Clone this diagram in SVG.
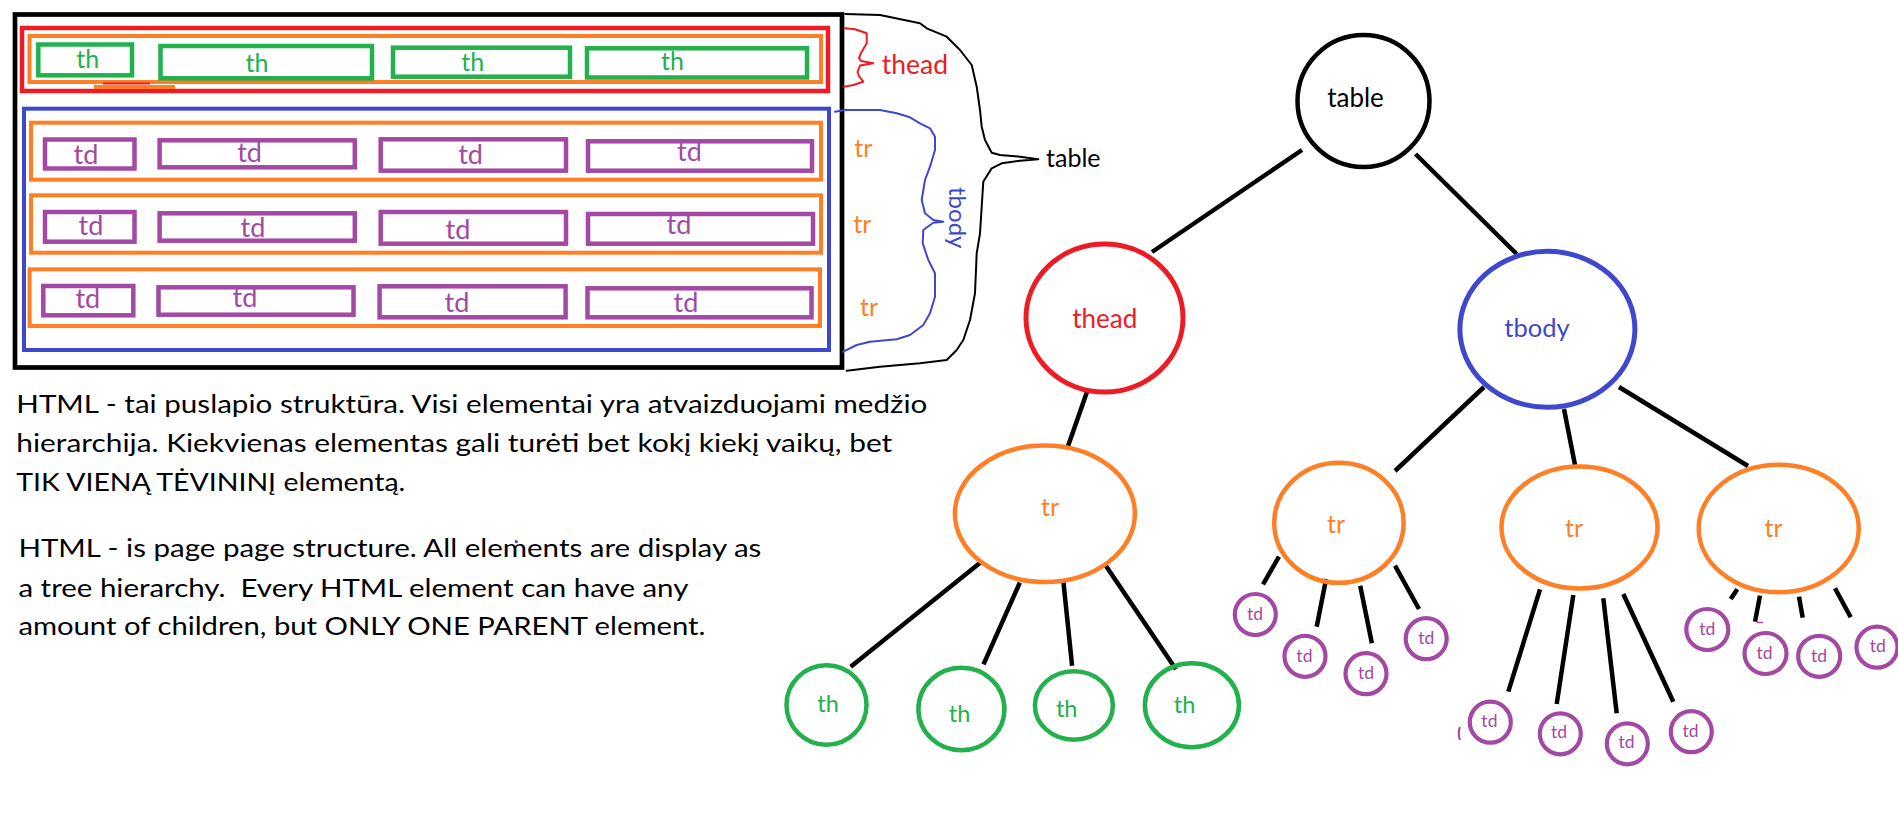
<svg xmlns="http://www.w3.org/2000/svg" width="1898" height="816" viewBox="0 0 1898 816">
<style>
.bg{fill:#ffffff}
.r{fill:none;stroke-linejoin:miter}
.blk{stroke:#000000}
.red{stroke:#ed1c24}
.org{stroke:#ff7f27}
.grn{stroke:#22b14c}
.blu{stroke:#3f48cc}
.pur{stroke:#a349a4}
.t{font-family:Lato,"Open Sans","Liberation Sans",sans-serif;text-anchor:middle}
.ts{font-family:Lato,"Open Sans","Liberation Sans",sans-serif}
.cred{fill:#ed1c24}.corg{fill:#ff7f27}.cgrn{fill:#22b14c}.cblu{fill:#3f48cc}.cpur{fill:#a349a4}.cblk{fill:#000000}
.node{fill:none}
.edge{stroke:#000000;stroke-width:4.5;stroke-linecap:butt;fill:none}
.brace{fill:none;stroke-width:2;stroke-linejoin:round;stroke-linecap:round}
.para{font-family:Lato,"Open Sans","Liberation Sans",sans-serif;font-size:25.5px;fill:#000000;white-space:pre}
</style>
<rect class="bg" x="0" y="0" width="1898" height="816"/>

<g id="table-box">
  <rect class="r blk" x="15" y="14.5" width="827" height="353" stroke-width="4.7"/>
  <rect class="r red" x="22" y="28" width="806" height="63" stroke-width="4.5"/>
  <rect class="r org" x="29.5" y="36" width="791.5" height="46" stroke-width="4"/>
  <line x1="94" y1="87" x2="175" y2="87" stroke="#ff7f27" stroke-width="4"/>
  <line x1="103" y1="83.5" x2="150" y2="83.5" stroke="#ed1c24" stroke-width="2"/>
  <rect class="r grn" x="38.3" y="44.5" width="93.7" height="30.8" stroke-width="4.5"/>
  <rect class="r grn" x="160.5" y="46" width="211.5" height="32.3" stroke-width="4.5"/>
  <rect class="r grn" x="393" y="47.7" width="177" height="29" stroke-width="4.5"/>
  <rect class="r grn" x="587" y="48.3" width="220" height="29.2" stroke-width="4.5"/>
  <g class="t cgrn" font-size="25">
    <text x="87.7" y="68.3">th</text>
    <text x="257" y="71.7">th</text>
    <text x="472.8" y="70.7">th</text>
    <text x="672.5" y="70">th</text>
  </g>
  <rect class="r blu" x="24" y="108.7" width="805" height="241.3" stroke-width="4"/>
  <rect class="r org" x="31" y="122.7" width="790" height="57" stroke-width="4"/>
  <rect class="r org" x="31" y="195.3" width="790" height="57.4" stroke-width="4"/>
  <rect class="r org" x="29.6" y="269.3" width="790.4" height="56.7" stroke-width="4"/>
  <g stroke-width="4.5">
    <rect class="r pur" x="45" y="139.5" width="89.5" height="29"/>
    <rect class="r pur" x="159.6" y="140.3" width="195.2" height="27"/>
    <rect class="r pur" x="380.7" y="139.3" width="185.3" height="31.4"/>
    <rect class="r pur" x="588" y="141.3" width="224" height="29.4"/>
    <rect class="r pur" x="45" y="212" width="89.5" height="29.7"/>
    <rect class="r pur" x="159.6" y="213.3" width="195.2" height="27.4"/>
    <rect class="r pur" x="380.7" y="212" width="185.3" height="31.7"/>
    <rect class="r pur" x="588" y="214" width="225" height="29.7"/>
    <rect class="r pur" x="43.3" y="286" width="90" height="29.3"/>
    <rect class="r pur" x="158.5" y="287.3" width="195" height="27.4"/>
    <rect class="r pur" x="379.6" y="286.3" width="186" height="31"/>
    <rect class="r pur" x="587.5" y="288.3" width="224" height="29"/>
  </g>
  <g class="t cpur" font-size="27">
    <text x="86" y="164.3">td</text>
    <text x="249.6" y="161.7">td</text>
    <text x="470.6" y="164.3">td</text>
    <text x="689.5" y="161">td</text>
    <text x="91" y="235">td</text>
    <text x="252.9" y="237.3">td</text>
    <text x="458" y="239">td</text>
    <text x="679" y="234.3">td</text>
    <text x="87.8" y="308.3">td</text>
    <text x="245" y="306.7">td</text>
    <text x="457" y="311.7">td</text>
    <text x="686" y="311.7">td</text>
  </g>
</g>

<g id="braces">
  <polyline class="brace red" points="845,28.3 855,29.3 866.7,33.3 866.7,43.3 861.7,51.7 859,58 861,61 873.3,63.3 860,65.5 857.5,72 859,76 863.3,81.7 853.3,85 844,86.7"/>
  <text class="ts cred" x="881.7" y="74" font-size="26.5">thead</text>
  <polyline class="brace blu" points="835,111.7 845,110 880,110 896.7,113.3 910,117.3 920,123.3 930,128.3 935,136.7 935,150 930,166.7 925,180 921.7,200 925,213.3 933.3,220 943.3,221.7 933.3,222.7 923.3,230 922.7,243.3 928.3,260 935,273.3 935,296.7 930,313.3 923.3,325 910,335 896.7,339.3 870,341.7 856.7,345 843.3,351.7" stroke-width="1.8"/>
  <text class="ts cblu" font-size="24" transform="translate(949,187) rotate(90)">tbody</text>
  <g class="ts corg" font-size="25">
    <text x="854.3" y="157.3">tr</text>
    <text x="853.3" y="233.3">tr</text>
    <text x="860" y="316">tr</text>
  </g>
  <polyline class="brace blk" points="845.3,14 880,15 920,23.3 926.7,28.3 946.7,36.7 960,50 971.7,65 976.7,86.7 980,110 981.7,126.7 985,140 991.7,152.7 1000,155 1020,156.7 1038.3,159.3 1020,160.7 1001.7,163.3 991.7,168.3 983.3,181.7 981.7,206.7 980,233.3 976.7,253.3 975,293.3 970,320 963.3,340 956.7,350 946.7,360 920,363.3 880,366.7 846.7,370.7"/>
  <text class="ts cblk" x="1046" y="166.7" font-size="25">table</text>
</g>

<g id="description">
  <text class="para" x="16.3" y="413.3" textLength="911" lengthAdjust="spacingAndGlyphs">HTML - tai puslapio struktūra. Visi elementai yra atvaizduojami medžio</text>
  <text class="para" x="16.3" y="451.7" textLength="876" lengthAdjust="spacingAndGlyphs">hierarchija. Kiekvienas elementas gali turėti bet kokį kiekį vaikų, bet</text>
  <text class="para" x="16.3" y="490.7" textLength="389" lengthAdjust="spacingAndGlyphs">TIK VIENĄ TĖVININĮ elementą.</text>
  <text class="para" x="18.4" y="557.3" textLength="743" lengthAdjust="spacingAndGlyphs">HTML - is page page structure. All elements are display as</text>
  <text class="para" x="18.4" y="596.7" textLength="670" lengthAdjust="spacingAndGlyphs">a tree hierarchy.  Every HTML element can have any</text>
  <text class="para" x="18.4" y="635" textLength="687" lengthAdjust="spacingAndGlyphs">amount of children, but ONLY ONE PARENT element.</text>
  <circle cx="516.3" cy="541.7" r="1.6" fill="#3f48cc"/>
</g>

<g id="connectors">
  <line class="edge" x1="1302" y1="150" x2="1152" y2="252"/>
  <line class="edge" x1="1415.5" y1="154" x2="1516.7" y2="254"/>
  <line class="edge" x1="1088" y1="389" x2="1067" y2="449"/>
  <line class="edge" x1="1484" y1="387" x2="1395" y2="471"/>
  <line class="edge" x1="1564" y1="409" x2="1575" y2="465"/>
  <line class="edge" x1="1619" y1="387" x2="1748" y2="466"/>
  <line class="edge" x1="981.4" y1="561.7" x2="850.7" y2="666.7"/>
  <line class="edge" x1="1019.8" y1="582.7" x2="983.5" y2="664.3"/>
  <line class="edge" x1="1063.4" y1="581.7" x2="1072.1" y2="665.7"/>
  <line class="edge" x1="1104.8" y1="564.3" x2="1175.9" y2="669.3"/>
  <line class="edge" x1="1279" y1="556.7" x2="1263" y2="584.3"/>
  <line class="edge" x1="1326.1" y1="579" x2="1316.7" y2="626.7"/>
  <line class="edge" x1="1360.2" y1="585.7" x2="1371.9" y2="643.3"/>
  <line class="edge" x1="1395" y1="565.7" x2="1419" y2="609"/>
  <line class="edge" x1="1540" y1="589.3" x2="1508.3" y2="691.7"/>
  <line class="edge" x1="1573.3" y1="595" x2="1556.7" y2="704"/>
  <line class="edge" x1="1603.3" y1="598.3" x2="1616.7" y2="713.3"/>
  <line class="edge" x1="1623.3" y1="594" x2="1673.3" y2="701.7"/>
  <line class="edge" x1="1737.3" y1="589.3" x2="1730.7" y2="599"/>
  <line class="edge" x1="1760" y1="595.7" x2="1755" y2="621.7"/>
  <line class="edge" x1="1799" y1="596.7" x2="1802.7" y2="617.7"/>
  <line class="edge" x1="1835" y1="588.3" x2="1850.7" y2="617.3"/>
</g>

<g id="node-table">
  <ellipse class="node blk" cx="1363.5" cy="101" rx="66" ry="66" stroke-width="4.5"/>
  <text class="t cblk" x="1355.5" y="107.3" font-size="26">table</text>
</g>
<g id="node-thead">
  <ellipse class="node red" cx="1104.5" cy="318" rx="78.5" ry="74" stroke-width="5"/>
  <text class="t cred" x="1104.8" y="328.3" font-size="26">thead</text>
</g>
<g id="node-tbody">
  <ellipse class="node blu" cx="1547.4" cy="329.3" rx="87.5" ry="78" stroke-width="5"/>
  <text class="t cblu" x="1537" y="337.3" font-size="25.5">tbody</text>
</g>
<g id="node-tr1">
  <ellipse class="node org" cx="1044.9" cy="513.7" rx="90" ry="68.3" stroke-width="4.5"/>
  <text class="t corg" x="1050" y="516" font-size="25">tr</text>
</g>
<g id="node-tr2">
  <ellipse class="node org" cx="1338.9" cy="522.8" rx="64.7" ry="60" stroke-width="4.5"/>
  <text class="t corg" x="1336" y="532.7" font-size="25">tr</text>
</g>
<g id="node-tr3">
  <ellipse class="node org" cx="1579.5" cy="527.5" rx="78" ry="61" stroke-width="4.5"/>
  <text class="t corg" x="1574" y="537.3" font-size="25">tr</text>
</g>
<g id="node-tr4">
  <ellipse class="node org" cx="1778.7" cy="528.5" rx="80" ry="63.8" stroke-width="4.5"/>
  <text class="t corg" x="1773.6" y="536.7" font-size="25">tr</text>
</g>
<g id="node-th1">
  <ellipse class="node grn" cx="826.5" cy="705" rx="40" ry="39.7" stroke-width="4.5"/>
  <text class="t cgrn" x="828" y="711.7" font-size="23.5">th</text>
</g>
<g id="node-th2">
  <ellipse class="node grn" cx="961.4" cy="709" rx="43" ry="41.3" stroke-width="4.5"/>
  <text class="t cgrn" x="959.6" y="721.7" font-size="23.5">th</text>
</g>
<g id="node-th3">
  <ellipse class="node grn" cx="1073.9" cy="705.5" rx="39" ry="34.2" stroke-width="4.5"/>
  <text class="t cgrn" x="1066.7" y="716.7" font-size="23.5">th</text>
</g>
<g id="node-th4">
  <ellipse class="node grn" cx="1191.9" cy="705.2" rx="47" ry="42" stroke-width="4.5"/>
  <text class="t cgrn" x="1184.6" y="713.3" font-size="23.5">th</text>
</g>

<g id="node-td-2a"><ellipse class="node pur" cx="1255.3" cy="614.5" rx="20.5" ry="20.5" stroke-width="4.2"/><text class="t cpur" x="1255" y="620" font-size="17.5">td</text></g>
<g id="node-td-2b"><ellipse class="node pur" cx="1305" cy="656.3" rx="20.5" ry="20.5" stroke-width="4.2"/><text class="t cpur" x="1304.4" y="661.7" font-size="17.5">td</text></g>
<g id="node-td-2c"><ellipse class="node pur" cx="1366" cy="673.7" rx="20.5" ry="20.5" stroke-width="4.2"/><text class="t cpur" x="1366" y="679.3" font-size="17.5">td</text></g>
<g id="node-td-2d"><ellipse class="node pur" cx="1426.2" cy="638.7" rx="20.5" ry="20.5" stroke-width="4.2"/><text class="t cpur" x="1426.3" y="644" font-size="17.5">td</text></g>
<g id="node-td-3a"><ellipse class="node pur" cx="1490.3" cy="722.2" rx="20.5" ry="20.5" stroke-width="4.2"/><text class="t cpur" x="1489.4" y="727.3" font-size="17.5">td</text></g>
<g id="node-td-3b"><ellipse class="node pur" cx="1560.3" cy="733.8" rx="20.5" ry="20.5" stroke-width="4.2"/><text class="t cpur" x="1559" y="738.3" font-size="17.5">td</text></g>
<g id="node-td-3c"><ellipse class="node pur" cx="1627.3" cy="743.8" rx="20.5" ry="20.5" stroke-width="4.2"/><text class="t cpur" x="1626.6" y="748.3" font-size="17.5">td</text></g>
<g id="node-td-3d"><ellipse class="node pur" cx="1691.3" cy="731.7" rx="20.5" ry="20.5" stroke-width="4.2"/><text class="t cpur" x="1690.5" y="736.7" font-size="17.5">td</text></g>
<g id="node-td-4a"><ellipse class="node pur" cx="1707.3" cy="629.5" rx="21" ry="20.5" stroke-width="4.2"/><text class="t cpur" x="1707.2" y="635" font-size="17.5">td</text></g>
<g id="node-td-4b"><ellipse class="node pur" cx="1765.5" cy="653.5" rx="21" ry="20.5" stroke-width="4.2"/><text class="t cpur" x="1764.5" y="659.3" font-size="17.5">td</text></g>
<g id="node-td-4c"><ellipse class="node pur" cx="1819.2" cy="656.3" rx="21" ry="20.5" stroke-width="4.2"/><text class="t cpur" x="1819" y="661.7" font-size="17.5">td</text></g>
<g id="node-td-4d"><ellipse class="node pur" cx="1877" cy="647.2" rx="20.5" ry="20.5" stroke-width="4.2"/><text class="t cpur" x="1877.7" y="651.7" font-size="17.5">td</text></g>

<g id="marks">
  <path d="M1460,727 Q1457.5,733 1460,740" fill="none" stroke="#a349a4" stroke-width="2"/>
  <line x1="1757" y1="622.5" x2="1763" y2="622.5" stroke="#a349a4" stroke-width="1.5"/>
</g>
</svg>
